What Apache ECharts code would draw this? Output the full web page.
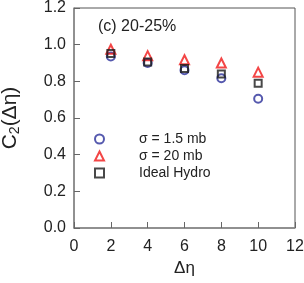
<!DOCTYPE html>
<html>
<head>
<meta charset="utf-8">
<script src="https://cdn.jsdelivr.net/npm/echarts@6/dist/echarts.min.js"></script>
<style>
html,body{margin:0;padding:0;background:#fff;}
#c{width:304px;height:283px;}
</style>
</head>
<body>
<div id="c"></div>
<script>
var deta = [2, 4, 6, 8, 10];
var sigma15 = [0.935, 0.900, 0.860, 0.817, 0.705];
var sigma20 = [0.975, 0.940, 0.918, 0.900, 0.850];
var idealHydro = [0.952, 0.905, 0.870, 0.840, 0.790];
var seriesNames = ['σ = 1.5 mb', 'σ = 20 mb', 'Ideal Hydro'];
var xTicks = [0, 2, 4, 6, 8, 10, 12];
var yTicks = [0.0, 0.2, 0.4, 0.6, 0.8, 1.0, 1.2];

function pairs(xs, ys){ return xs.map(function(x,i){ return [x, ys[i]]; }); }

var font = 'Liberation Sans, Arial, sans-serif';
var chart = echarts.init(document.getElementById('c'), null, {renderer:'canvas'});
chart.setOption({
  animation: false,
  backgroundColor: '#fff',
  grid: {left: 74, top: 8, right: 9, bottom: 55, show: true, borderColor: '#555', borderWidth: 1,
         containLabel: false, outerBoundsMode: 'none'},
  title: {
    text: '(c) 20-25%', left: 93, top: 14,
    textStyle: {fontFamily: font, fontSize: 16, fontWeight: 'normal', color: '#222'}
  },
  legend: {
    orient: 'vertical', left: 89, top: 127, itemGap: 3,
    itemWidth: 9, itemHeight: 9,
    data: seriesNames,
    textStyle: {fontFamily: font, fontSize: 14, color: '#222', padding: [0,0,0,30]}
  },
  xAxis: {
    type: 'value', min: 0, max: 12, interval: 2,
    name: 'Δη', nameLocation: 'middle', nameGap: 32,
    nameTextStyle: {fontFamily: font, fontSize: 17, color: '#222'},
    axisLine: {lineStyle: {color: '#888', width: 1.5}},
    axisTick: {inside: true, length: 6, lineStyle: {color: '#666'}},
    axisLabel: {fontFamily: font, fontSize: 16, color: '#222', margin: 11,
      formatter: function(v){ return xTicks.indexOf(v) >= 0 ? String(v) : ''; }},
    splitLine: {show: false}
  },
  yAxis: {
    type: 'value', min: 0, max: 1.2, interval: 0.2,
    name: 'C{s|2}(Δη)', nameLocation: 'middle', nameGap: 52,
    nameTextStyle: {fontFamily: font, fontSize: 21, color: '#222',
      rich: {s: {fontFamily: font, fontSize: 14, color: '#222', verticalAlign: 'bottom', padding: [9,0,0,0]}}},
    axisLine: {lineStyle: {color: '#888', width: 1.5}},
    axisTick: {inside: true, length: 6, lineStyle: {color: '#666'}},
    axisLabel: {fontFamily: font, fontSize: 16, color: '#222', margin: 8,
      formatter: function(v){ return v.toFixed(1); }},
    splitLine: {show: false}
  },
  series: [
    {name: seriesNames[0], type: 'scatter', symbol: 'circle', symbolSize: 8, z: 2,
     itemStyle: {color: 'rgba(0,0,0,0)', borderColor: '#2a2f9a', borderWidth: 2},
     data: pairs(deta, sigma15)},
    {name: seriesNames[1], type: 'scatter', symbol: 'triangle', symbolSize: 9, z: 3,
     itemStyle: {color: 'rgba(0,0,0,0)', borderColor: '#f01818', borderWidth: 2},
     data: pairs(deta, sigma20)},
    {name: seriesNames[2], type: 'scatter', symbol: 'rect', symbolSize: 7, z: 4,
     itemStyle: {color: 'rgba(0,0,0,0)', borderColor: '#1a1a1a', borderWidth: 2},
     data: pairs(deta, idealHydro)}
  ]
});
</script>
</body>
</html>
